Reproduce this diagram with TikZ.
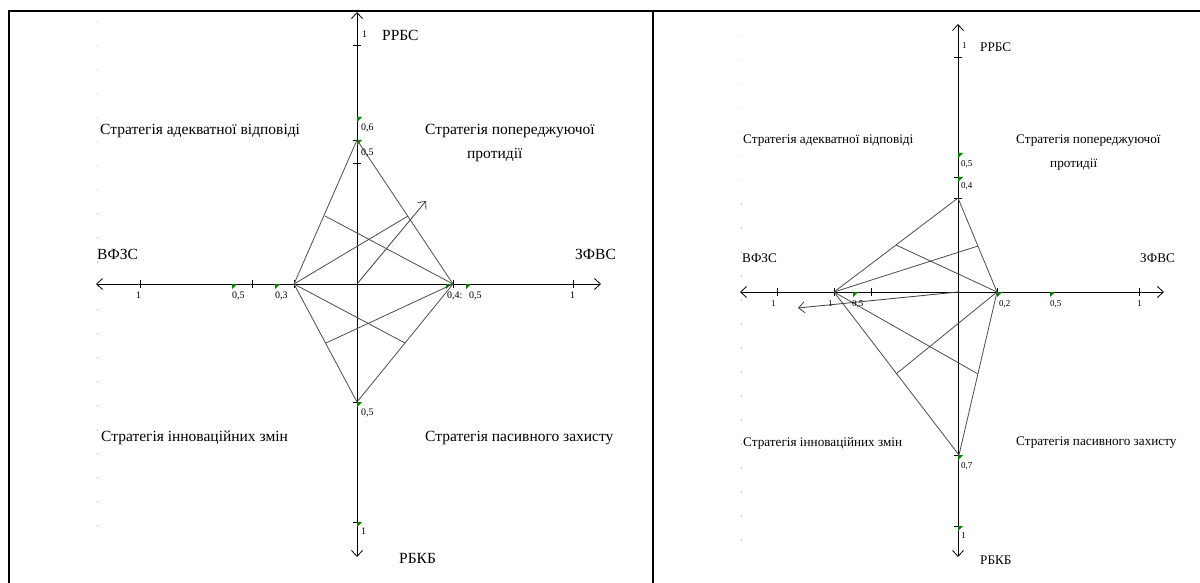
\documentclass[tikz,border=0pt]{standalone}
\usepackage{fontspec}
\setmainfont{Liberation Serif}
\usetikzlibrary{arrows.meta}
\newcommand\gmark[1]{\fill[gm] (#1) -- ++(5,0) -- ++(-5,5) -- cycle;}
\begin{document}
\begin{tikzpicture}[x=1pt,y=-1pt,
  axisline/.style={line width=0.8pt,{Straight Barb[length=6pt,width=11pt]}-{Straight Barb[length=6pt,width=11pt]}},
  polyedge/.style={draw=black!70,line width=0.8pt},
  vec/.style={draw=black!75,line width=0.8pt,-{Straight Barb[length=6pt,width=11pt]}},
  tickmark/.style={line width=0.8pt},
  frameline/.style={line width=2.4pt},
  biglbl/.style={font=\fontsize{15.5}{16}\selectfont,inner sep=0,anchor=west},
  smalllbl/.style={font=\fontsize{13.2}{14}\selectfont,inner sep=0,anchor=west},
  num/.style={font=\fontsize{10}{10}\selectfont,inner sep=0,anchor=north west},
  snum/.style={font=\fontsize{9}{9}\selectfont,inner sep=0,anchor=north west},
  gm/.style={fill=green!50!black},
  dot/.style={fill=black!20}]
\useasboundingbox (0,0) rectangle (1200,583);
% table frame
\draw[frameline] (9,583) -- (9,11) -- (1200,11);
\draw[frameline] (653,11) -- (653,583);
% faint dots
\foreach \k in {0,...,21} {\fill[dot] (96.5,21+24*\k) rectangle ++(1.5,1.5);}
\foreach \k in {0,...,21} {\fill[dot] (740.5,35+24*\k) rectangle ++(1.5,1.5);}

%================ LEFT DIAGRAM ================
\coordinate (O1) at (357,284);
\coordinate (A1t) at (357,12);
\coordinate (A1b) at (357,557);
\coordinate (A1l) at (96,284);
\coordinate (A1r) at (601,284);
\coordinate (T1) at (357,140);
\coordinate (L1) at (294,284);
\coordinate (R1) at (453,284);
\coordinate (B1) at (357,402);
\draw[axisline] (A1b) -- (A1t);
\draw[axisline] (A1l) -- (A1r);
% ticks
\foreach \y in {45,140,163,402,522} {\draw[tickmark] (353,\y) -- (361,\y);}
\foreach \x in {140,252,294,453,573} {\draw[tickmark] (\x,280) -- (\x,288);}
% green marks
\foreach \p in {{357,117},{357,140},{357,402},{357,522},{232,284},{275,284},{446,284},{466,284}} {\gmark{\p}}
% polygon
\draw[polyedge] (T1) -- (R1) -- (B1) -- (L1) -- cycle;
\coordinate (e1) at (408,216);
\coordinate (e2) at (325,216);
\coordinate (e3) at (405,343);
\coordinate (e4) at (326,343);
\coordinate (v1) at (426,201);
\draw[polyedge] (L1) -- (e1);
\draw[polyedge] (R1) -- (e2);
\draw[polyedge] (L1) -- (e3);
\draw[polyedge] (R1) -- (e4);
\draw[vec] (O1) -- (v1);
% numbers
\node[num] (n1a) at (362,31) {1};
\node[num] (n1b) at (361,124) {0,6};
\node[num] (n1c) at (361,149) {0,5};
\node[num] (n1d) at (361,409) {0,5};
\node[num] (n1e) at (361,528) {1};
\node[num] (n1f) at (136,292) {1};
\node[num] (n1g) at (232,292) {0,5};
\node[num] (n1h) at (275,292) {0,3};
\node[num] (n1i) at (447,292) {0,4:};
\node[num] (n1j) at (469,292) {0,5};
\node[num] (n1k) at (570,292) {1};
% labels
\node[biglbl] (r1) at (382,35) {РРБС};
\node[biglbl] (k1) at (399,558) {РБКБ};
\node[biglbl] (w1) at (97,254) {ВФЗС};
\node[biglbl] (z1) at (575,254) {ЗФВС};
\node[biglbl] (s1a) at (100,131) {Стратегія адекватної відповіді};
\node[biglbl] (s1b) at (425,131) {Стратегія попереджуючої};
\node[biglbl] (s1c) at (467,155) {протидії};
\node[biglbl] (s1d) at (101,438) {Стратегія інноваційних змін};
\node[biglbl] (s1e) at (425,438) {Стратегія пасивного захисту};

%================ RIGHT DIAGRAM ================
\coordinate (O2) at (958,292);
\coordinate (A2t) at (958,24);
\coordinate (A2b) at (958,557);
\coordinate (A2l) at (740,292);
\coordinate (A2r) at (1164,292);
\coordinate (T2) at (958,198);
\coordinate (L2) at (834,292);
\coordinate (R2) at (997,292);
\coordinate (B2) at (959,455);
\draw[axisline] (A2b) -- (A2t);
\draw[axisline] (A2l) -- (A2r);
\foreach \y in {57,177,198,455,526} {\draw[tickmark] (954,\y) -- (962,\y);}
\foreach \x in {777,834,871,997,1139} {\draw[tickmark] (\x,288) -- (\x,296);}
\foreach \p in {{958,153},{958,177},{958,455},{958,526},{853,292},{997,292},{1050,292}} {\gmark{\p}}
\draw[polyedge] (T2) -- (R2) -- (B2) -- (L2) -- cycle;
\coordinate (f1) at (896,245);
\coordinate (f2) at (978,246);
\coordinate (f3) at (978,374);
\coordinate (f4) at (896,374);
\coordinate (v2) at (798,308);
\draw[polyedge] (R2) -- (f1);
\draw[polyedge] (L2) -- (f2);
\draw[polyedge] (L2) -- (f3);
\draw[polyedge] (R2) -- (f4);
\draw[vec] (O2) -- (v2);
\node[snum] (n2a) at (962,42) {1};
\node[snum] (n2b) at (961,160) {0,5};
\node[snum] (n2c) at (961,182) {0,4};
\node[snum] (n2d) at (961,462) {0,7};
\node[snum] (n2e) at (961,532) {1};
\node[snum] (n2f) at (771,300) {1};
\node[snum] (n2g) at (828,300) {1};
\node[snum] (n2h) at (852,300) {0,5};
\node[snum] (n2i) at (999,300) {0,2};
\node[snum] (n2j) at (1050,300) {0,5};
\node[snum] (n2k) at (1137,300) {1};
\node[smalllbl] (r2) at (980,47) {РРБС};
\node[smalllbl] (k2) at (980,560) {РБКБ};
\node[smalllbl] (w2) at (742,258) {ВФЗС};
\node[smalllbl] (z2) at (1140,258) {ЗФВС};
\node[smalllbl] (s2a) at (743,141) {Стратегія адекватної відповіді};
\node[smalllbl] (s2b) at (1016,141) {Стратегія попереджуючої};
\node[smalllbl] (s2c) at (1050,165) {протидії};
\node[smalllbl] (s2d) at (743,443) {Стратегія інноваційних змін};
\node[smalllbl] (s2e) at (1016,443) {Стратегія пасивного захисту};
\end{tikzpicture}
\end{document}
